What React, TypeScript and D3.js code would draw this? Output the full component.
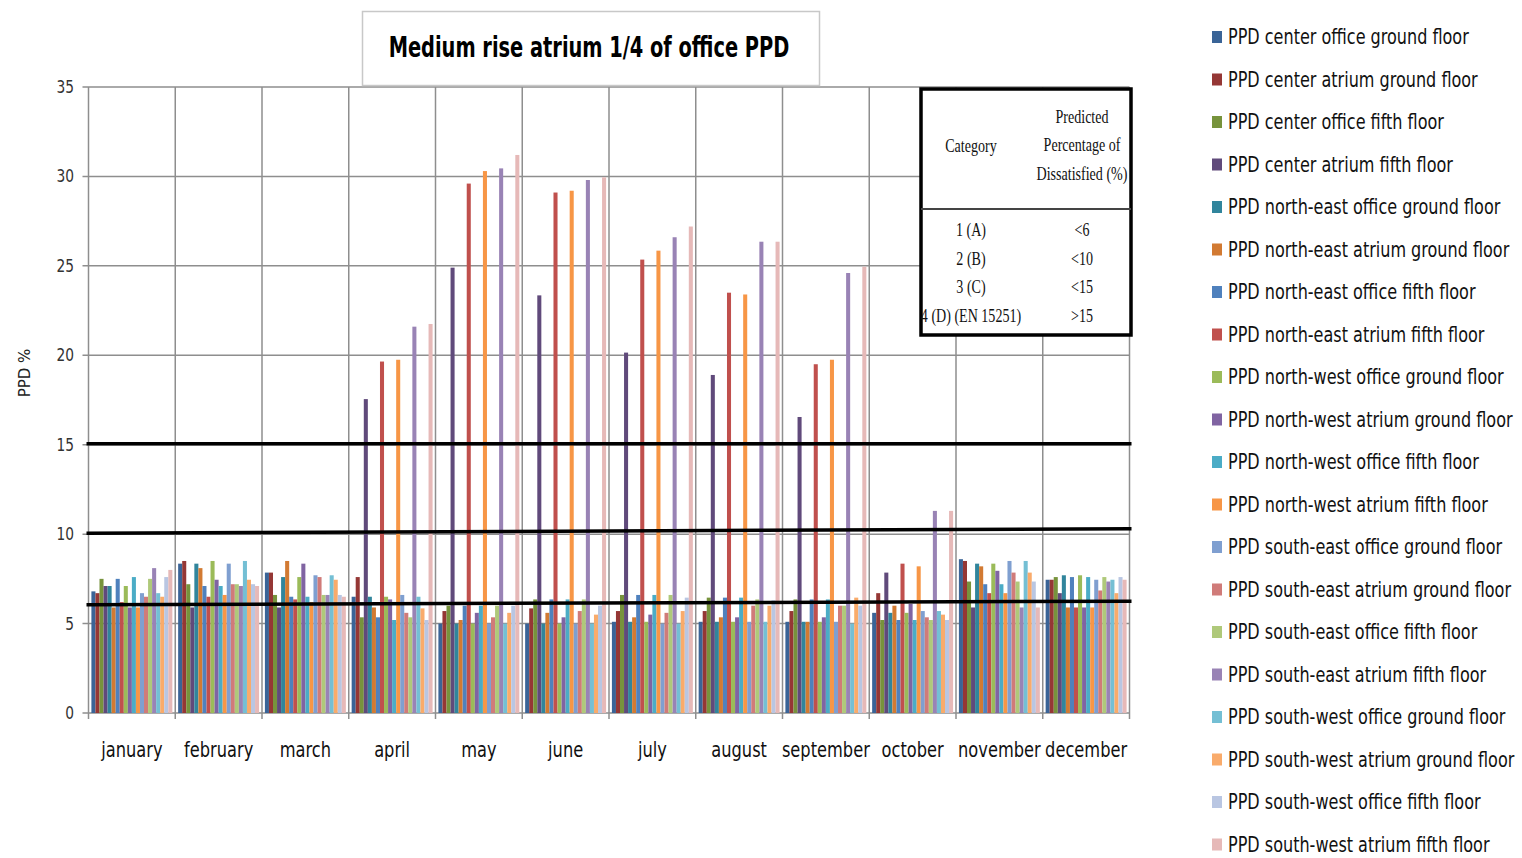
import React from 'react'
import * as d3 from 'd3'

const months = ['january', 'february', 'march', 'april', 'may', 'june', 'july', 'august', 'september', 'october', 'november', 'december']

const seriesNames = [
  'PPD center office ground floor',
  'PPD center atrium ground floor',
  'PPD center office fifth floor',
  'PPD center atrium fifth floor',
  'PPD north-east office ground floor',
  'PPD north-east atrium ground floor',
  'PPD north-east office fifth floor',
  'PPD north-east atrium fifth floor',
  'PPD north-west office ground floor',
  'PPD north-west atrium ground floor',
  'PPD north-west office fifth floor',
  'PPD north-west atrium fifth floor',
  'PPD south-east office ground floor',
  'PPD south-east atrium ground floor',
  'PPD south-east office fifth floor',
  'PPD south-east atrium fifth floor',
  'PPD south-west office ground floor',
  'PPD south-west atrium ground floor',
  'PPD south-west office fifth floor',
  'PPD south-west atrium fifth floor'
]

const seriesColors = [
  '#3a6497', '#953735', '#77933c', '#604a7b', '#31859c', '#d27a32',
  '#4f81bd', '#c0504d', '#9bbb59', '#8064a2', '#4bacc6', '#f79646',
  '#7f9fd0', '#d07b79', '#afc97a', '#9983b5', '#74bfd4', '#f9ab6b',
  '#b9c6e2', '#e6b9b8'
]

// one row per series, jan..dec
const seriesValues = [
  [6.8, 8.35, 7.85, 6.5, 5.0, 5.0, 5.1, 5.1, 5.1, 5.6, 8.6, 7.45],
  [6.7, 8.5, 7.85, 7.6, 5.7, 5.85, 5.7, 5.7, 5.7, 6.7, 8.5, 7.45],
  [7.5, 7.2, 6.6, 5.35, 6.0, 6.35, 6.6, 6.45, 6.35, 5.2, 7.35, 7.6],
  [7.1, 5.9, 5.9, 17.55, 24.9, 23.35, 20.15, 18.9, 16.55, 7.85, 5.9, 6.7],
  [7.1, 8.35, 7.6, 6.5, 5.0, 5.0, 5.1, 5.1, 5.1, 5.6, 8.35, 7.7],
  [5.9, 8.1, 8.5, 5.9, 5.2, 5.6, 5.35, 5.35, 5.1, 6.0, 8.2, 5.9],
  [7.5, 7.1, 6.5, 5.35, 6.0, 6.35, 6.6, 6.45, 6.35, 5.2, 7.2, 7.6],
  [6.2, 6.5, 6.35, 19.65, 29.6, 29.1, 25.35, 23.5, 19.5, 8.35, 6.7, 5.9],
  [7.1, 8.5, 7.6, 6.5, 5.0, 5.0, 5.1, 5.1, 5.1, 5.6, 8.35, 7.7],
  [5.9, 7.45, 8.35, 6.35, 5.6, 5.35, 5.5, 5.35, 5.35, 6.1, 7.95, 5.9],
  [7.6, 7.1, 6.5, 5.2, 6.0, 6.35, 6.6, 6.45, 6.35, 5.2, 7.2, 7.6],
  [5.9, 6.6, 6.2, 19.75, 30.3, 29.2, 25.85, 23.4, 19.75, 8.2, 6.7, 5.9],
  [6.7, 8.35, 7.7, 6.6, 5.0, 5.0, 5.0, 5.1, 5.1, 5.7, 8.5, 7.45],
  [6.5, 7.2, 7.6, 5.6, 5.35, 5.7, 5.6, 6.0, 6.0, 5.35, 7.85, 6.85],
  [7.5, 7.2, 6.6, 5.35, 6.0, 6.35, 6.6, 6.35, 6.0, 5.2, 7.35, 7.6],
  [8.1, 7.1, 6.6, 21.6, 30.45, 29.8, 26.6, 26.35, 24.6, 11.3, 5.9, 7.35],
  [6.7, 8.5, 7.7, 6.5, 5.0, 5.0, 5.0, 5.1, 5.0, 5.7, 8.5, 7.45],
  [6.5, 7.45, 7.45, 5.85, 5.6, 5.5, 5.7, 6.0, 6.45, 5.5, 7.85, 6.7],
  [7.6, 7.2, 6.6, 5.2, 6.0, 6.0, 6.45, 6.3, 6.0, 5.2, 7.35, 7.6],
  [8.0, 7.1, 6.5, 21.75, 31.2, 29.95, 27.2, 26.35, 24.95, 11.3, 5.9, 7.45]
]

const yTicks = [0, 5, 10, 15, 20, 25, 30, 35]

// hand-drawn category limits (value at left edge, value at right edge)
const limitLines = [
  { from: 15.05, to: 15.05 },
  { from: 10.05, to: 10.3 },
  { from: 6.05, to: 6.25 }
]

const tableRows = [
  ['1 (A)', '<6'],
  ['2 (B)', '<10'],
  ['3 (C)', '<15'],
  ['4 (D) (EN 15251)', '>15']
]

const narrow = '"Liberation Sans Narrow", "DejaVu Sans Condensed", sans-serif'
const serif = '"Liberation Serif", serif'

// text squeezed horizontally, to mimic the condensed fonts of the original
const Squeezed = ({ x, y, sx, children, ...rest }: any) => (
  <text transform={`translate(${x},${y}) scale(${sx},1)`} {...rest}>{children}</text>
)

export default function App() {
  const width = 1522
  const height = 858
  const left = 88.5
  const right = 1129.5

  const x0 = d3.scaleBand<string>().domain(months).range([left, right]).padding(0)
  const bw = x0.bandwidth()
  const x1 = d3.scaleBand<number>().domain(d3.range(seriesNames.length)).range([2.9, bw - 2.9]).padding(0)
  const y = d3.scaleLinear().domain([0, 35]).range([713, 87])

  const grid = '#8e8e8e'

  return (
    <svg width={width} height={height} style={{ position: 'absolute', left: 0, top: 0, background: '#fff' }}>
      <rect x={0} y={0} width={width} height={height} fill="#fff" />

      {/* horizontal gridlines */}
      {yTicks.map(t => (
        <g key={'y' + t}>
          <line x1={left - 6} x2={right} y1={y(t)} y2={y(t)} stroke={grid} strokeWidth={1.5} />
          <Squeezed x={74} y={y(t) + 6} sx={0.9} textAnchor="end" fontFamily={narrow} fontSize={17} fill="#333">{t}</Squeezed>
        </g>
      ))}

      {/* vertical gridlines and ticks */}
      {months.concat(['end']).map((m, i) => {
        const xx = i < months.length ? x0(m)! : right
        return <line key={'v' + i} x1={xx} x2={xx} y1={y(35)} y2={y(0) + 6} stroke={grid} strokeWidth={1.5} />
      })}

      {/* bars */}
      {months.map((m, mi) => (
        <g key={m} transform={`translate(${x0(m)},0)`}>
          {seriesValues.map((vals, si) => (
            <rect
              key={si}
              x={x1(si)!}
              y={y(vals[mi])}
              width={x1.bandwidth()}
              height={y(0) - y(vals[mi])}
              fill={seriesColors[si]}
            />
          ))}
        </g>
      ))}

      {/* limit lines */}
      {limitLines.map((l, i) => (
        <line key={'l' + i} x1={left - 2} x2={right + 2} y1={y(l.from)} y2={y(l.to)} stroke="#000" strokeWidth={3.5} />
      ))}

      {/* month labels */}
      {months.map(m => (
        <Squeezed key={'t' + m} x={x0(m)! + bw / 2} y={757} sx={0.86} textAnchor="middle" fontFamily={narrow} fontSize={21} fill="#111">{m}</Squeezed>
      ))}

      {/* y axis title */}
      <text transform="translate(30,373) rotate(-90)" textAnchor="middle" fontFamily='"DejaVu Sans", sans-serif' fontSize={15} fill="#222">PPD %</text>

      {/* title */}
      <rect x={362.5} y={11.5} width={457} height={74} fill="#fff" stroke="#c8c8c8" strokeWidth={1.5} />
      <Squeezed x={589} y={57} sx={0.77} textAnchor="middle" fontFamily={narrow} fontWeight="bold" fontSize={28} fill="#000">Medium rise atrium 1/4 of office PPD</Squeezed>

      {/* category table */}
      <g fontFamily={serif} fontSize={19} fill="#111">
        <rect x={921} y={89} width={210} height={246} fill="#fff" stroke="#000" strokeWidth={3.5} />
        <line x1={921} x2={1131} y1={209} y2={209} stroke="#444" strokeWidth={2} />
        <Squeezed x={971} y={152} sx={0.74} textAnchor="middle">Category</Squeezed>
        <Squeezed x={1082} y={123} sx={0.74} textAnchor="middle">Predicted</Squeezed>
        <Squeezed x={1082} y={151} sx={0.74} textAnchor="middle">Percentage of</Squeezed>
        <Squeezed x={1082} y={180} sx={0.74} textAnchor="middle">Dissatisfied (%)</Squeezed>
        {tableRows.map((r, i) => (
          <g key={'r' + i}>
            <Squeezed x={971} y={236 + i * 28.7} sx={0.74} textAnchor="middle">{r[0]}</Squeezed>
            <Squeezed x={1082} y={236 + i * 28.7} sx={0.74} textAnchor="middle">{r[1]}</Squeezed>
          </g>
        ))}
      </g>

      {/* legend */}
      {seriesNames.map((n, i) => {
        const cy = 37 + i * 42.5
        return (
          <g key={'lg' + i}>
            <rect x={1212} y={cy - 6} width={10} height={12} fill={seriesColors[i]} />
            <Squeezed x={1228} y={cy + 7} sx={0.85} fontFamily={narrow} fontSize={21} fill="#111">{n}</Squeezed>
          </g>
        )
      })}
    </svg>
  )
}
